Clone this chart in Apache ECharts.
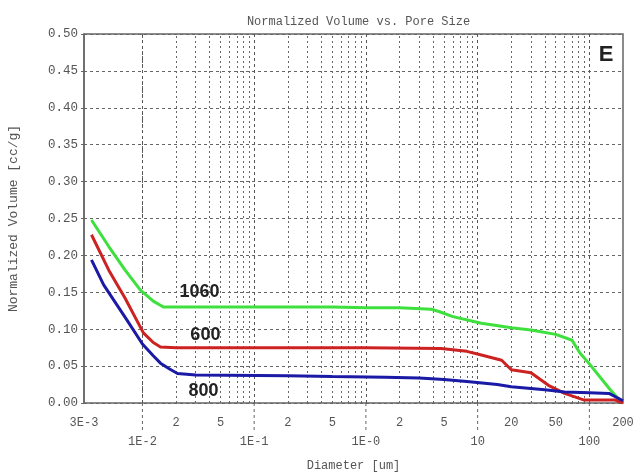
<!DOCTYPE html>
<html><head><meta charset="utf-8">
<script src="https://cdn.jsdelivr.net/npm/echarts@6/dist/echarts.min.js"></script>
<style>html,body{margin:0;padding:0;background:#fff}#c{width:635px;height:475px}</style>
</head><body><div id="c"></div>
<script>
// ---- data ----
const seriesNames = ['1060', '600', '800'];
const diam1060 = [0.0035,0.005,0.007,0.0096,0.0125,0.0154,0.03,0.1,0.5,1,2,3.85,4.5,6,10.8,20,30,50,70,82,100,150,185,200];
const vol1060  = [0.248,0.212,0.180,0.153,0.138,0.130,0.130,0.130,0.130,0.129,0.129,0.127,0.124,0.117,0.108,0.102,0.099,0.093,0.085,0.068,0.053,0.020,0.004,0.0];
const diam600  = [0.0035,0.005,0.007,0.0102,0.0125,0.0145,0.02,0.1,1,4.7,8,10.8,16.4,20,30,43,60,90,170,200];
const vol600   = [0.228,0.180,0.142,0.095,0.082,0.076,0.075,0.075,0.075,0.074,0.070,0.065,0.058,0.045,0.041,0.024,0.013,0.004,0.004,0.0];
const diam800  = [0.0035,0.0045,0.0055,0.0073,0.01,0.0125,0.0145,0.0175,0.0206,0.03,0.2,0.5,1.5,3,5,8,15,20,40,60,100,150,200];
const vol800   = [0.194,0.160,0.140,0.112,0.080,0.064,0.054,0.046,0.040,0.038,0.037,0.036,0.035,0.034,0.032,0.029,0.025,0.022,0.018,0.015,0.014,0.013,0.003];
// annotation anchors (data coords)
const annotX = [0.0324, 0.0366, 0.0352];
const annotY = [0.150, 0.092, 0.0163];
// tick labels
const row1Values = [0.003, 0.02, 0.05, 0.2, 0.5, 2, 5, 20, 50, 200];
const row1Labels = ['3E-3', '2', '5', '2', '5', '2', '5', '20', '50', '200'];
const row2Values = [0.01, 0.1, 1, 10, 100];
const row2Labels = ['1E-2', '1E-1', '1E-0', '10', '100'];
const xMin = 0.003, xMax = 200;

const colors = ['#3ee03e', '#cc2222', '#1a1aa6'];
const MONO = '"Liberation Mono","DejaVu Sans Mono",monospace';
const TXT = '#555';

function pairs(xs, ys) { return xs.map((x, i) => [x, ys[i]]); }

// minor grid values (2..9 per decade), inside range
const minorVals = [];
for (let e = -3; e <= 2; e++) {
  for (let m = 2; m <= 9; m++) {
    const v = +(m * Math.pow(10, e)).toPrecision(3);
    if (v > xMin && v < xMax) minorVals.push(v);
  }
}

const chart = echarts.init(document.getElementById('c'), null, {renderer: 'canvas'});
const option = {
  animation: false,
  backgroundColor: '#fff',
  title: {
    text: 'Normalized Volume vs. Pore Size',
    left: 353.5, top: 11, textAlign: 'center',
    textStyle: {fontFamily: MONO, fontSize: 12, fontWeight: 'normal', color: TXT}
  },
  grid: {left: 84, right: 12, top: 34, bottom: 72, show: true, borderColor: '#666', borderWidth: 1.5,
         backgroundColor: 'transparent', containLabel: false, outerBoundsMode: 'none'},
  xAxis: {
    type: 'log', logBase: 10, min: xMin, max: xMax,
    name: 'Diameter [um]', nameLocation: 'middle', nameGap: 57,
    nameTextStyle: {fontFamily: MONO, fontSize: 12, color: TXT},
    axisLine: {show: false}, axisTick: {show: false}, axisLabel: {show: false}, splitLine: {show: false}
  },
  yAxis: {
    type: 'value', min: 0, max: 0.5, interval: 0.05,
    name: 'Normalized Volume [cc/g]', nameLocation: 'middle', nameGap: 64, nameRotate: 90,
    nameTextStyle: {fontFamily: MONO, fontSize: 13, color: TXT},
    axisLine: {show: true, lineStyle: {color: '#666', width: 1.5}},
    axisTick: {show: true, length: 3, inside: false, lineStyle: {color: '#666'}},
    axisLabel: {fontFamily: MONO, fontSize: 12.5, color: TXT, margin: 6, formatter: v => v.toFixed(2)},
    splitLine: {show: true, lineStyle: {color: '#666', type: [3, 3], width: 1}}
  },
  series: [
    {
      type: 'line', data: [], z: 1, silent: true,
      markLine: {
        silent: true, symbol: 'none', label: {show: false}, animation: false,
        lineStyle: {color: '#666', type: [2, 3], width: 1},
        data: minorVals.map(v => ({xAxis: v})).concat(
          row2Values.map(v => ({xAxis: v, lineStyle: {color: '#555', type: [3, 3], width: 1}})))
      }
    },
    {name: seriesNames[0], type: 'line', data: pairs(diam1060, vol1060), showSymbol: false, z: 5,
     lineStyle: {color: colors[0], width: 3}, itemStyle: {color: colors[0]}},
    {name: seriesNames[1], type: 'line', data: pairs(diam600, vol600), showSymbol: false, z: 5,
     lineStyle: {color: colors[1], width: 3}, itemStyle: {color: colors[1]}},
    {name: seriesNames[2], type: 'line', data: pairs(diam800, vol800), showSymbol: false, z: 5,
     lineStyle: {color: colors[2], width: 3}, itemStyle: {color: colors[2]}}
  ]
};
chart.setOption(option);

// axis tick labels and decade tick extensions, positioned through the axis scale
const y0 = chart.convertToPixel({yAxisIndex: 0}, 0);
const gfx = [];
row1Values.forEach((v, i) => {
  gfx.push({type: 'text', x: chart.convertToPixel({xAxisIndex: 0}, v), y: y0 + 20,
    style: {text: row1Labels[i], fontFamily: MONO, fontSize: 12, fill: TXT, align: 'center', verticalAlign: 'middle'}});
});
row2Values.forEach((v, i) => {
  const px = chart.convertToPixel({xAxisIndex: 0}, v);
  gfx.push({type: 'line', shape: {x1: px, y1: y0, x2: px, y2: y0 + 30},
    style: {stroke: '#666', lineWidth: 1, lineDash: [3, 3]}});
  gfx.push({type: 'text', x: px, y: y0 + 39,
    style: {text: row2Labels[i], fontFamily: MONO, fontSize: 12, fill: TXT, align: 'center', verticalAlign: 'middle'}});
});
seriesNames.forEach((n, i) => {
  const p = chart.convertToPixel({gridIndex: 0}, [annotX[i], annotY[i]]);
  gfx.push({type: 'text', x: p[0], y: p[1], z: 10,
    style: {text: n, fontFamily: '"Liberation Sans",Arial,sans-serif', fontSize: 18, fontWeight: 'bold', fill: '#222', align: 'center', verticalAlign: 'middle'}});
});
gfx.push({type: 'text', x: 606, y: 55, z: 10,
  style: {text: 'E', fontFamily: '"Liberation Sans",Arial,sans-serif', fontSize: 22, fontWeight: 'bold', fill: '#222', align: 'center', verticalAlign: 'middle'}});
chart.setOption({graphic: gfx});
</script>
</body></html>
